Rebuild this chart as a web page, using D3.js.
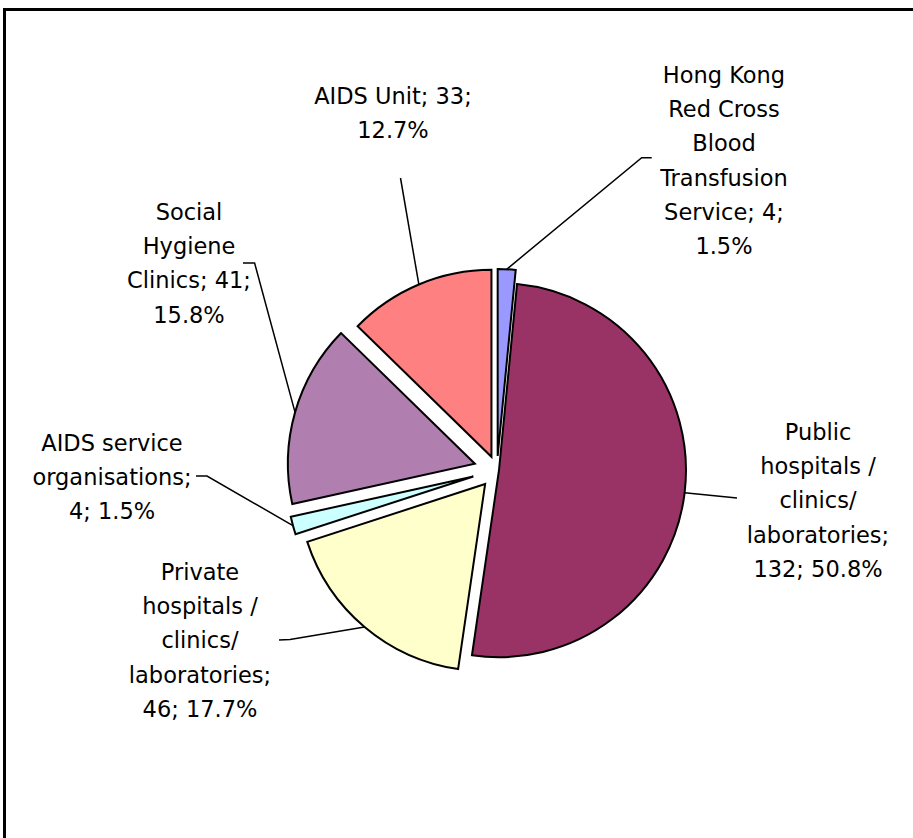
<!DOCTYPE html>
<html>
<head>
<meta charset="utf-8">
<script src="https://cdn.jsdelivr.net/npm/d3@7"></script>
<style>
  html, body { margin: 0; padding: 0; background: #ffffff; }
  svg { display: block; }
</style>
</head>
<body>
<script>
// Sources of reported HIV tests, by reporting unit
const categories = [
  "Hong Kong\nRed Cross\nBlood\nTransfusion\nService",
  "Public\nhospitals /\nclinics/\nlaboratories",
  "Private\nhospitals /\nclinics/\nlaboratories",
  "AIDS service\norganisations",
  "Social\nHygiene\nClinics",
  "AIDS Unit"
];
const values = [4, 132, 46, 4, 41, 33];
const colors = ["#9999ff", "#993366", "#ffffcc", "#ccffff", "#b07fb0", "#ff8080"];
// whether the count moves down to the percentage line
const valueOnNewLine = [false, true, true, true, false, false];

// layout: per-slice explosion, label centre and first-line centre, leader elbow/end
const explode = [14, 2, 18.4, 24.5, 23, 14.3];
const labelPos = [[724, 75], [818, 432], [200, 572], [112, 443], [189, 212], [393, 96]];
const leaderPts = [
  [[641.7, 157.7], [651.7, 157.7]],
  [[737, 498]],
  [[290, 639.5], [279, 640]],
  [[207, 476], [196, 476]],
  [[254.6, 263], [243, 263]],
  [[400.5, 178]]
];

const W = 913, H = 838;
const cx = 497, cy = 470, R = 187;
const lineGap = 34.2;
const fontSize = 22.5;

const svg = d3.select("body").append("svg")
  .attr("width", W).attr("height", H);

// chart area frame (only top and left edges fall inside the page)
svg.append("rect")
  .attr("x", 4.5).attr("y", 9.5)
  .attr("width", W + 20).attr("height", H + 20)
  .attr("fill", "none").attr("stroke", "#000").attr("stroke-width", 3);

const total = d3.sum(values);
const pct = d3.format(".1%");

const pie = d3.pie().sort(null).value(d => d).startAngle(0).endAngle(2 * Math.PI);
const arcs = pie(values);
const arc = d3.arc().innerRadius(0).outerRadius(R);

const g = svg.append("g").attr("transform", `translate(${cx},${cy})`);

arcs.forEach((a, i) => {
  const m = (a.startAngle + a.endAngle) / 2;
  a.dir = [Math.sin(m), -Math.cos(m)];
  a.apex = [a.dir[0] * explode[i], a.dir[1] * explode[i]];
});

g.selectAll("path.slice")
  .data(arcs)
  .join("path")
  .attr("class", "slice")
  .attr("transform", d => `translate(${d.apex[0]},${d.apex[1]})`)
  .attr("d", arc)
  .attr("fill", (d, i) => colors[i])
  .attr("stroke", "#000")
  .attr("stroke-width", 2)
  .attr("stroke-linejoin", "miter");

// leader lines from the middle of each slice's rim to its label
const line = d3.line();
arcs.forEach((a, i) => {
  const start = [cx + a.apex[0] + a.dir[0] * R, cy + a.apex[1] + a.dir[1] * R];
  svg.append("path")
    .attr("d", line([start, ...leaderPts[i]]))
    .attr("fill", "none")
    .attr("stroke", "#000")
    .attr("stroke-width", 1.5);
});

// data labels: category; value; percentage
arcs.forEach((a, i) => {
  const v = values[i];
  const p = pct(v / total);
  const lines = categories[i].split("\n");
  const last = lines.length - 1;
  if (valueOnNewLine[i]) {
    lines[last] += ";";
    lines.push(`${v}; ${p}`);
  } else {
    lines[last] += `; ${v};`;
    lines.push(p);
  }
  const t = svg.append("text")
    .attr("font-family", "'DejaVu Sans', Verdana, sans-serif")
    .attr("font-size", fontSize)
    .attr("fill", "#000")
    .attr("text-anchor", "middle");
  lines.forEach((s, k) => {
    t.append("tspan")
      .attr("x", labelPos[i][0])
      .attr("y", labelPos[i][1] + k * lineGap + 8)
      .text(s);
  });
});
</script>
</body>
</html>
